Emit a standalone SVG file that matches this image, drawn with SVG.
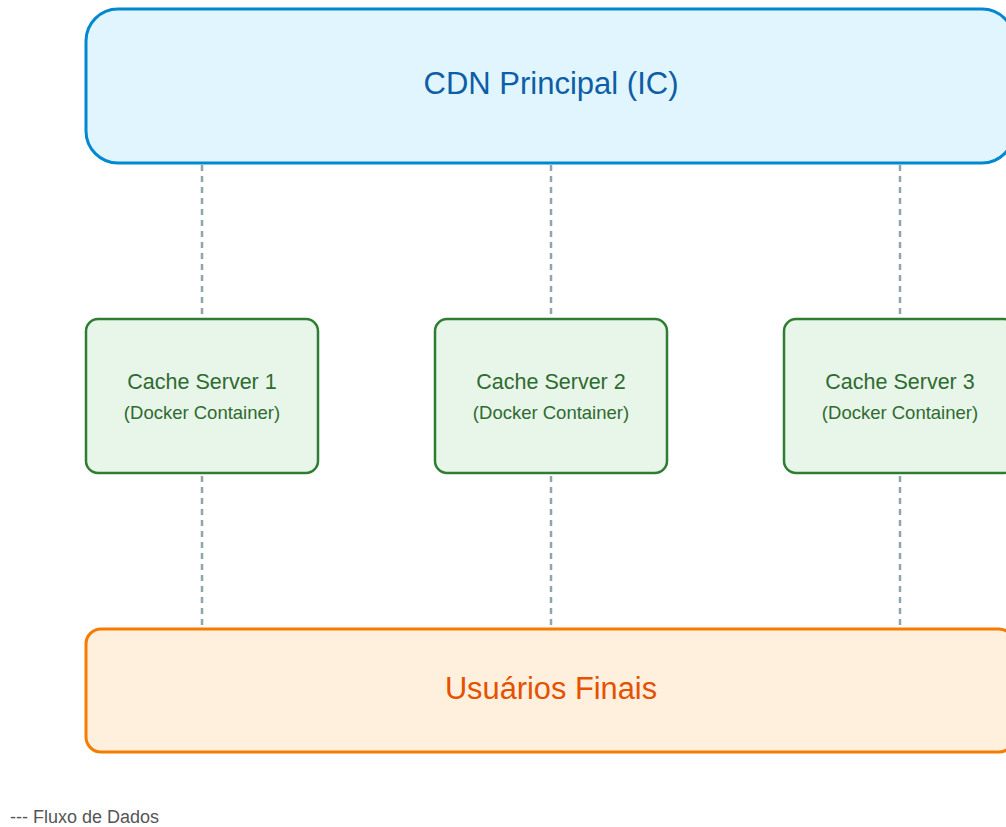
<svg xmlns="http://www.w3.org/2000/svg" width="1006" height="827" viewBox="0 0 1006 827">
<style>
text{font-family:"Liberation Sans",Arial,sans-serif;text-anchor:middle}
.link{stroke:#90A4AE;stroke-width:2.5;stroke-dasharray:6,5;fill:none}
.cache rect{fill:#E8F5E9;stroke:#2E7D32;stroke-width:2.5}
.cache .t1{font-size:21.5px;fill:#2E6B30}
.cache .t2{font-size:18.5px;fill:#2E6B30}
</style>
<rect width="1006" height="827" fill="#ffffff"/>
<g id="connectors">
<line class="link" x1="202" y1="165" x2="202" y2="317"/>
<line class="link" x1="551" y1="165" x2="551" y2="317"/>
<line class="link" x1="900" y1="165" x2="900" y2="317"/>
<line class="link" x1="202" y1="476" x2="202" y2="627"/>
<line class="link" x1="551" y1="476" x2="551" y2="627"/>
<line class="link" x1="900" y1="476" x2="900" y2="627"/>
</g>
<g id="cdn">
<rect x="86" y="9" width="928" height="154" rx="32" fill="#E1F5FE" stroke="#0288D1" stroke-width="3"/>
<text x="551" y="94" font-size="31" fill="#0D5EA6">CDN Principal (IC)</text>
</g>
<g id="cache1" class="cache">
<rect x="86" y="319" width="232" height="154" rx="12"/>
<text class="t1" x="202" y="389">Cache Server 1</text>
<text class="t2" x="202" y="419">(Docker Container)</text>
</g>
<g id="cache2" class="cache">
<rect x="435" y="319" width="232" height="154" rx="12"/>
<text class="t1" x="551" y="389">Cache Server 2</text>
<text class="t2" x="551" y="419">(Docker Container)</text>
</g>
<g id="cache3" class="cache">
<rect x="784" y="319" width="232" height="154" rx="12"/>
<text class="t1" x="900" y="389">Cache Server 3</text>
<text class="t2" x="900" y="419">(Docker Container)</text>
</g>
<g id="users">
<rect x="86" y="629" width="928" height="123" rx="15" fill="#FFF0DE" stroke="#F57C00" stroke-width="3"/>
<text x="551" y="699" font-size="30.8" fill="#E65100">Usuários Finais</text>
</g>
<g id="legend">
<text x="10" y="823" font-size="18" fill="#555555" style="text-anchor:start">--- Fluxo de Dados</text>
</g>
</svg>
